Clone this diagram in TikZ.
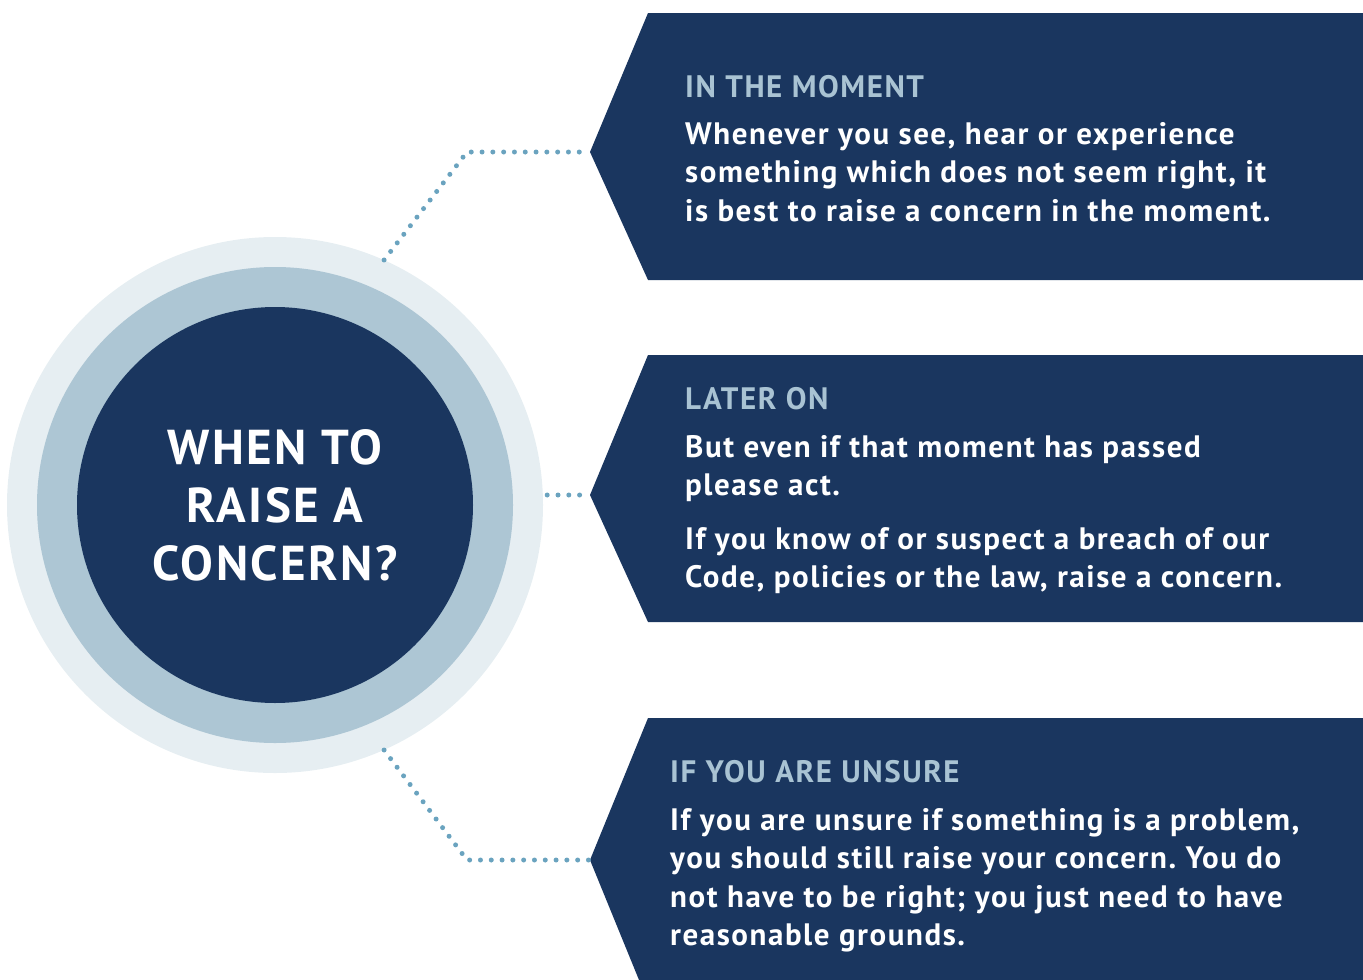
\documentclass[tikz,border=0pt]{standalone}
\usepackage{fontspec}
\setmainfont{PT Sans}[LetterSpace=5.0]
\frenchspacing
\usetikzlibrary{positioning}
\definecolor{navy}{HTML}{1A365F}
\definecolor{paleblue}{HTML}{E6EEF2}
\definecolor{midblue}{HTML}{ADC6D4}
\definecolor{dotblue}{HTML}{6AA3BF}
\definecolor{headblue}{HTML}{A9C3D3}
\tikzset{ring node/.style={circle,fill=#1,inner sep=0pt},
 dots/.style={dotblue,line width=5pt,line cap=round,dash pattern=on 0pt off 10.8pt},
 head/.style={text=headblue,anchor=base west,inner sep=0pt,font=\bfseries\fontsize{31}{38.5}\selectfont},
 body/.style={text=white,anchor=base west,inner sep=0pt,align=left,font=\bfseries\fontsize{31}{38.5}\selectfont},
}

\begin{document}
\begin{tikzpicture}[x=1pt,y=-1pt]
	\useasboundingbox (0,0) rectangle (1363,980);
	\clip (0,0) rectangle (1363,980);
	
	% circles
	\node[ring node=paleblue,minimum size=536pt] (outer) at (275,505) {};
	\node[ring node=midblue,minimum size=476pt] (middle) at (275,505) {};
	\node[ring node=navy,minimum size=396pt] (inner) at (275,505) {};
	\node[text=white,align=center,font=\bfseries\fontsize{49}{58}\selectfont] (main) at (275,505) {WHEN TO\\RAISE A\\CONCERN?};
	
	% boxes
	\coordinate (tip1) at (590,152);
	\coordinate (tip2) at (590,495);
	\coordinate (tip3) at (590,860);
	\fill[navy] (tip1) -- (648,13) -- (1363,13) -- (1363,280) -- (648,280) -- cycle;
	\fill[navy] (tip2) -- (648,355) -- (1363,355) -- (1363,622) -- (648,622) -- cycle;
	\fill[navy] (tip3) -- (648,718) -- (1363,718) -- (1363,1002) -- (648,1002) -- cycle;
	
	% connectors
	\coordinate (bend1) at (467,152);
	\coordinate (bend3) at (467,860);
	\draw[dots] (outer.66) -- (bend1) -- (tip1);
	\draw[dots] ([xshift=4pt]tip2 -| outer.east) -- (tip2);
	\draw[dots] (outer.-66) -- (bend3) -- (tip3);
	
	% texts (multi-line nodes sit on their last baseline)
	\node[head] (head1) at (685,97) {IN THE MOMENT};
	\node[body] (body1) at (685,221) {Whenever you see, hear or experience\\something which does not seem right, it\\is best to raise a concern in the moment.};
	\node[head] (head2) at (685,409) {LATER ON};
	\node[body] (body2) at (685,495.5) {But even if that moment has passed\\please act.};
	\node[body] (body2b) at (685,587.5) {If you know of or suspect a breach of our\\Code, policies or the law, raise a concern.};
	\node[head] (head3) at (670,782) {IF YOU ARE UNSURE};
	\node[body] (body3) at (670,945.5) {If you are unsure if something is a problem,\\you should still raise your concern. You do\\not have to be right; you just need to have\\reasonable grounds.};
\end{tikzpicture}
\end{document}
